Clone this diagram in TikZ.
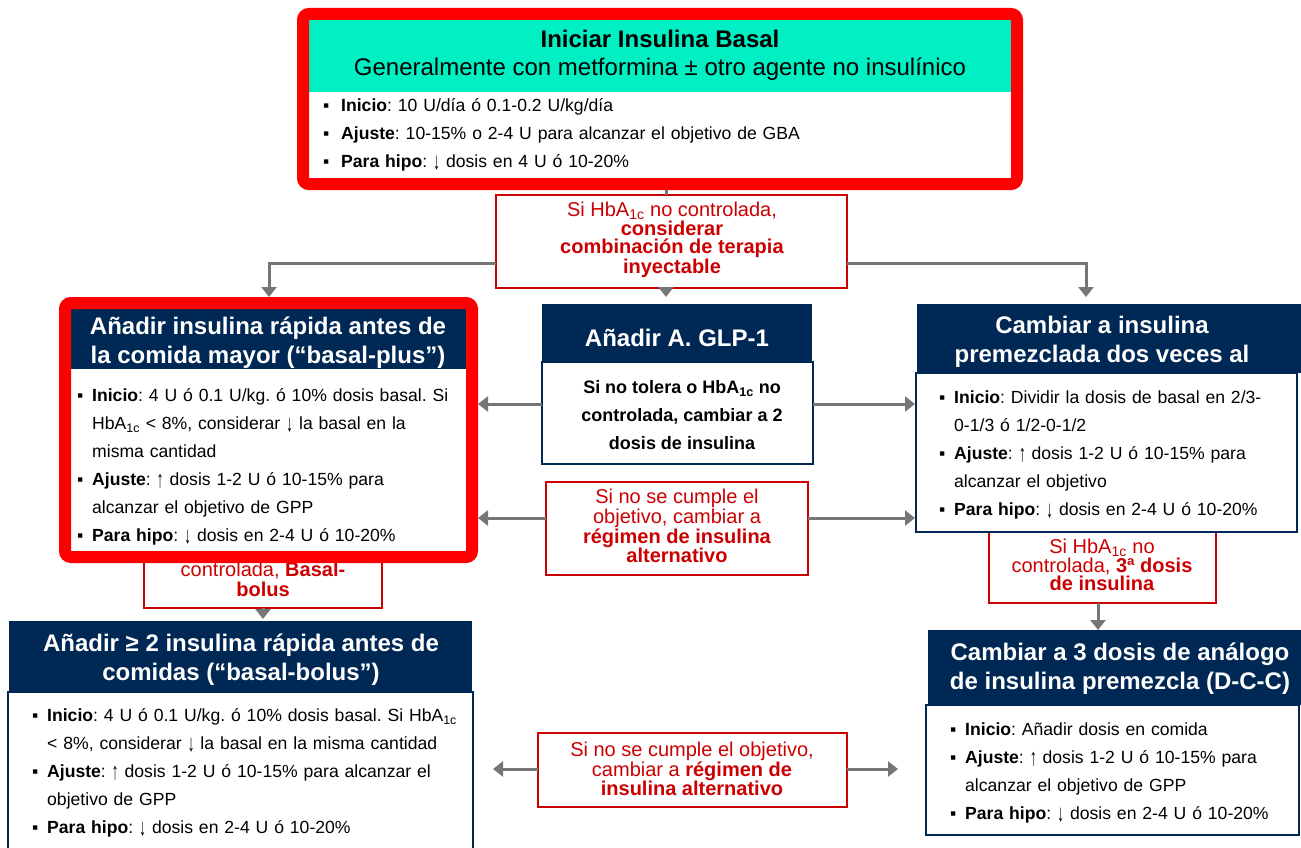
\documentclass[tikz,border=0pt]{standalone}
\usepackage{fontspec}
\setmainfont{Liberation Sans}
\usetikzlibrary{arrows.meta}
\definecolor{tealhead}{RGB}{0,240,195}
\definecolor{navy}{RGB}{0,40,85}
\definecolor{frameRed}{RGB}{255,0,0}
\definecolor{condRed}{RGB}{204,0,0}
\definecolor{arrGray}{RGB}{118,118,118}
\newlength{\bind}\setlength{\bind}{15pt}
\newcommand{\bi}[1]{\hangindent=\bind\hangafter=1\noindent\makebox[\bind][l]{▪}#1\par}
\newcommand{\dn}{\raisebox{-1.5pt}{\scalebox{0.8}[1.35]{↓}}}
\newcommand{\up}{\raisebox{-1.5pt}{\scalebox{0.8}[1.35]{↑}}}
\frenchspacing
\begin{document}
\begin{tikzpicture}[x=1pt,y=-1pt,
  bx/.style={inner sep=0, outer sep=0, anchor=north west},
  headbox/.style={bx, fill=navy},
  bodybox/.style={bx, draw=navy, line width=1.8pt, fill=white},
  condbox/.style={bx, draw=condRed, line width=1.5pt, fill=white},
  redframe/.style={bx, draw=frameRed, line width=12pt, rounded corners=6pt},
  headtxt/.style={text=white, font=\fontsize{24}{29}\selectfont\bfseries, align=center, inner sep=0},
  bultxt/.style={font=\fontsize{17.6}{28}\selectfont\frenchspacing, text width=#1, align=left, inner sep=0, anchor=west},
  condtxt/.style={text=condRed, font=\fontsize{20}{18.5}\selectfont, align=center, inner sep=0},
  arr/.style={draw=arrGray, line width=3pt, -{Triangle[length=10pt,width=15pt]}},
  ln/.style={draw=arrGray, line width=3pt},
]
\useasboundingbox (0,0) rectangle (1301,848);

% ---------- top ----------
\node (topHead) [bx, fill=tealhead, minimum width=702, minimum height=72] at (309,20) {};
\node (topBody) [bx, fill=white, minimum width=702, minimum height=86] at (309,92) {};
\node (topFrame) [redframe, minimum width=714, minimum height=170] at (303,14) {};
\node (topTitle) [font=\fontsize{24}{28}\selectfont, align=center, inner sep=0] at (660,55)
  {\textbf{Iniciar Insulina Basal}\\Generalmente con metformina ± otro agente no insulínico};
\node (topList) [bultxt=680] at (323,135)
  {\setlength{\bind}{18pt}\bi{\textbf{Inicio}: 10 U/día ó 0.1-0.2 U/kg/día}\bi{\textbf{Ajuste}: 10-15\% o 2-4 U para alcanzar el objetivo de GBA}\bi{\textbf{Para hipo}: \dn{} dosis en 4 U ó 10-20\%}};

% ---------- condition 1 ----------
\node (c1) [condbox, minimum width=351, minimum height=93] at (496,195) {};
\node (c1t) [condtxt] at (672,240)
  {Si HbA\textsubscript{1c} no controlada,\\\textbf{considerar}\\\textbf{combinación de terapia}\\\textbf{inyectable}};

% ---------- behind-frame condition boxes ----------
\node (condBB) [condbox, minimum width=238, minimum height=70] at (144,538) {};
\node (condBBt) [condtxt, font=\fontsize{20}{20}\selectfont] at (263,579) {controlada, \textbf{Basal-}\\\textbf{bolus}};
\node (cond3) [condbox, minimum width=227, minimum height=90] at (989,513) {};
\node (cond3t) [condtxt] at (1102,565) {Si HbA\textsubscript{1c} no\\controlada, \textbf{3ª dosis}\\\textbf{de insulina}};

% ---------- left (basal-plus) ----------
\node (lHead) [headbox, minimum width=395, minimum height=60] at (71,309) {};
\node (lBody) [bx, fill=white, minimum width=395, minimum height=182] at (71,369) {};
\node (lFrame) [redframe, minimum width=407, minimum height=254] at (65,303) {};
\node (lHeadT) [headtxt] at (268,343) {Añadir insulina rápida antes de\\la comida mayor (“basal-plus”)};
\node (lList) [bultxt=560] at (77,467)
  {\bi{\textbf{Inicio}: 4 U ó 0.1 U/kg. ó 10\% dosis basal. Si\newline HbA\textsubscript{1c} < 8\%, considerar \dn{} la basal en la\newline misma cantidad}\bi{\textbf{Ajuste}: \up{} dosis 1-2 U ó 10-15\% para\newline alcanzar el objetivo de GPP}\bi{\textbf{Para hipo}: \dn{} dosis en 2-4 U ó 10-20\%}};

% ---------- GLP-1 ----------
\node (gHead) [headbox, minimum width=270, minimum height=58] at (542,304) {};
\node (gBody) [bodybox, minimum width=271, minimum height=102] at (542,362) {};
\node (gHeadT) [headtxt] at (677,338) {Añadir A. GLP-1};
\node (gBodyT) [font=\fontsize{18}{28}\selectfont\bfseries, align=center, inner sep=0] at (682,415)
  {Si no tolera o HbA\textsubscript{1c} no\\controlada, cambiar a 2\\dosis de insulina};

% ---------- condition 2 ----------
\node (c2) [condbox, minimum width=262, minimum height=93] at (546,482) {};
\node (c2t) [condtxt] at (677,526) {Si no se cumple el\\objetivo, cambiar a\\\textbf{régimen de insulina}\\\textbf{alternativo}};

% ---------- right (premezclada) ----------
\node (rHead) [headbox, minimum width=384, minimum height=69] at (917,304) {};
\node (rBody) [bodybox, minimum width=381, minimum height=159] at (916,373) {};
\node (rHeadT) [headtxt] at (1102,342) {Cambiar a insulina\\premezclada dos veces al};
\node (rList) [bultxt=500] at (939,455)
  {\bi{\textbf{Inicio}: Dividir la dosis de basal en 2/3-\newline 0-1/3 ó 1/2-0-1/2}\bi{\textbf{Ajuste}: \up{} dosis 1-2 U ó 10-15\% para\newline alcanzar el objetivo}\bi{\textbf{Para hipo}: \dn{} dosis en 2-4 U ó 10-20\%}};

% ---------- bottom right ----------
\node (brHead) [headbox, minimum width=373, minimum height=75] at (928,630) {};
\node (brBody) [bodybox, minimum width=373, minimum height=130] at (926,705) {};
\node (brHeadT) [headtxt] at (1120,669) {Cambiar a 3 dosis de análogo\\de insulina premezcla (D-C-C)};
\node (brList) [bultxt=500] at (950,773)
  {\bi{\textbf{Inicio}: Añadir dosis en comida}\bi{\textbf{Ajuste}: \up{} dosis 1-2 U ó 10-15\% para\newline alcanzar el objetivo de GPP}\bi{\textbf{Para hipo}: \dn{} dosis en 2-4 U ó 10-20\%}};

% ---------- bottom left ----------
\node (blHead) [headbox, minimum width=463, minimum height=71] at (9,621) {};
\node (blBody) [bodybox, minimum width=465, minimum height=170] at (8,692) {};
\node (blHeadT) [headtxt] at (241,660) {Añadir ≥ 2 insulina rápida antes de\\comidas (“basal-bolus”)};
\node (blList) [bultxt=600] at (32,773)
  {\bi{\textbf{Inicio}: 4 U ó 0.1 U/kg. ó 10\% dosis basal. Si HbA\textsubscript{1c}\newline < 8\%, considerar \dn{} la basal en la misma cantidad}\bi{\textbf{Ajuste}: \up{} dosis 1-2 U ó 10-15\% para alcanzar el\newline objetivo de GPP}\bi{\textbf{Para hipo}: \dn{} dosis en 2-4 U ó 10-20\%}};

% ---------- condition 4 ----------
\node (c4) [condbox, minimum width=309, minimum height=74] at (538,733) {};
\node (c4t) [condtxt] at (692,769) {Si no se cumple el objetivo,\\cambiar a \textbf{régimen de}\\\textbf{insulina alternativo}};

% ---------- connectors ----------
\coordinate (j1) at (666,190);
\draw[ln] (j1) -- (j1 |- c1.north);
\coordinate (gTip) at (666,297);
\draw[arr] (c1.south -| gTip) -- (gTip);
\coordinate (c1L) at (496,263);
\coordinate (lTip) at (269,297);
\draw[arr] (c1L) -| (lTip);
\coordinate (c1R) at (847,263);
\coordinate (rTip) at (1086,297);
\draw[arr] (c1R) -| (rTip);

\coordinate (gL) at (542,404);
\coordinate (gLt) at (478,404);
\draw[arr] (gL) -- (gLt);
\coordinate (gR) at (813,404);
\coordinate (gRt) at (915,404);
\draw[arr] (gR) -- (gRt);

\coordinate (c2L) at (546,518);
\coordinate (c2Lt) at (478,518);
\draw[arr] (c2L) -- (c2Lt);
\coordinate (c2R) at (808,518);
\coordinate (c2Rt) at (915,518);
\draw[arr] (c2R) -- (c2Rt);

\coordinate (bbS) at (263,608);
\coordinate (bbT) at (263,619);
\draw[arr] (bbS) -- (bbT);
\coordinate (c3S) at (1098,603);
\draw[arr] (c3S) -- (c3S |- brHead.north);

\coordinate (c4L) at (538,769);
\coordinate (c4Lt) at (493,769);
\draw[arr] (c4L) -- (c4Lt);
\coordinate (c4R) at (847,769);
\coordinate (c4Rt) at (898,769);
\draw[arr] (c4R) -- (c4Rt);
\end{tikzpicture}
\end{document}
